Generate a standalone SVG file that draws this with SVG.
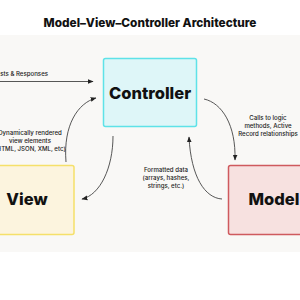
<svg xmlns="http://www.w3.org/2000/svg" width="300" height="300" viewBox="0 0 300 300">
<defs>
<style>
.title{font-family:"Inter","Liberation Sans",sans-serif;font-weight:800;font-size:11.8px;fill:#111}
.big{font-family:"Inter","Liberation Sans",sans-serif;font-weight:800;font-size:16.5px;fill:#111}
.lbl{font-family:"Inter","Liberation Sans",sans-serif;font-weight:500;font-size:6.1px;fill:#222}
.conn{fill:none;stroke:#444;stroke-width:0.9}
</style>
<marker id="ah" viewBox="0 0 10 10" refX="9" refY="5" markerWidth="6" markerHeight="6" orient="auto" markerUnits="userSpaceOnUse">
<path d="M0,1 L10,5 L0,9 Z" fill="#222"/>
</marker>
</defs>
<rect width="300" height="300" fill="#fff"/>
<rect x="0" y="35" width="300" height="217" fill="#f9f8f6"/>
<text class="title" x="150" y="27" text-anchor="middle">Model–View–Controller Architecture</text>
<g id="controller">
<rect x="103.5" y="58.5" width="93" height="68" rx="2" fill="#def6f8" stroke="#5ee2e8" stroke-width="1.5"/>
<text class="big" x="150" y="99" text-anchor="middle">Controller</text>
</g>
<g id="view">
<rect x="-5" y="165.5" width="79" height="69" rx="2" fill="#fcf4de" stroke="#f5e06a" stroke-width="1.5"/>
<text class="big" x="27" y="205" text-anchor="middle">View</text>
</g>
<g id="model">
<rect x="228.5" y="165.5" width="80" height="69" rx="2" fill="#f7e1e0" stroke="#cf5a5e" stroke-width="1.5"/>
<text class="big" x="274" y="205" text-anchor="middle">Model</text>
</g>
<g id="connectors">
<path class="conn" d="M0,81.5 L93,81.5" marker-end="url(#ah)"/>
<path class="conn" d="M66,162 C63,125 78,103 96,98" marker-end="url(#ah)"/>
<path class="conn" d="M113,136 C113,168 100,195 82,199" marker-end="url(#ah)"/>
<path class="conn" d="M204,99 C222,103 236,125 235,160" marker-end="url(#ah)"/>
<path class="conn" d="M222,199 C205,198 191,177 189,137" marker-end="url(#ah)"/>
</g>
<g id="labels">
<text class="lbl" x="48" y="76" text-anchor="end">Requests &amp; Responses</text>
<text class="lbl" x="30" y="135" text-anchor="middle">Dynamically  rendered</text>
<text class="lbl" x="30" y="143" text-anchor="middle">view elements</text>
<text class="lbl" x="30" y="151" text-anchor="middle">(HTML, JSON, XML, etc)</text>
<text class="lbl" x="166" y="172" text-anchor="middle">Formatted data</text>
<text class="lbl" x="166" y="180" text-anchor="middle">(arrays, hashes,</text>
<text class="lbl" x="166" y="188" text-anchor="middle">strings, etc.)</text>
<text class="lbl" x="268" y="120" text-anchor="middle">Calls to logic</text>
<text class="lbl" x="268" y="128" text-anchor="middle">methods, Active</text>
<text class="lbl" x="268" y="136" text-anchor="middle">Record relationships</text>
</g>
</svg>
